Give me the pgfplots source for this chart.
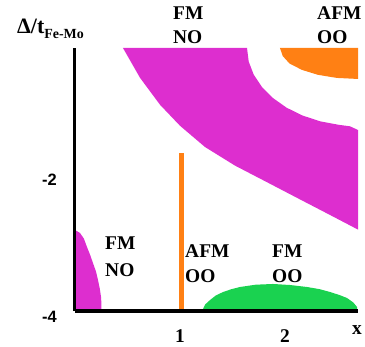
\documentclass[border=0pt]{standalone}
\usepackage{fontspec}
\setmainfont{Liberation Serif}
\setsansfont{Liberation Sans}
\usepackage{pgfplots}
\pgfplotsset{compat=1.18}
\definecolor{mag}{RGB}{221,46,207}
\definecolor{org}{RGB}{255,128,20}
\definecolor{grn}{RGB}{26,210,80}
\newcommand{\lbl}{\fontsize{19.5}{22}\selectfont\bfseries}
\begin{document}
\begin{tikzpicture}
\useasboundingbox (-75bp,-36bp) rectangle (290bp,311bp);
\begin{axis}[
  scale only axis,
  width=283bp, height=263bp,
  xmin=0, xmax=2.695, ymin=-4, ymax=0,
  axis lines=left,
  axis line style={-, line width=3bp, black},
  axis on top,
  clip=false,
  major tick length=0pt,
  xtick={1,2}, xticklabels={1,2},
  xticklabel style={anchor=base, inner sep=0pt, yshift=-31bp, font=\lbl},
  ytick={-2}, yticklabels={-2},
  extra y ticks={-4}, extra y tick labels={-4},
  extra y tick style={yticklabel style={yshift=-6bp}},
  yticklabel style={anchor=east, inner sep=0pt, xshift=-18bp, font=\fontsize{16.5}{18}\selectfont\sffamily\bfseries},
]
% upper FM NO region (magenta band)
\addplot[fill=mag, draw=none] coordinates {
 (0.457,0) (1.638,0) (1.654,-0.205) (1.702,-0.406) (1.780,-0.593)
 (1.886,-0.762) (2.015,-0.908) (2.167,-1.027) (2.333,-1.115)
 (2.511,-1.168) (2.619,-1.191) (2.695,-1.247)
 (2.695,-2.762) (2.429,-2.540) (2.143,-2.303) (1.810,-2.026)
 (1.524,-1.789) (1.238,-1.506) (1.0,-1.183) (0.810,-0.864)
 (0.619,-0.453) (0.457,0)
} --cycle;
% upper right AFM OO region
\addplot[fill=org, draw=none] coordinates {
 (1.952,0) (1.978,-0.122) (2.043,-0.236) (2.161,-0.333)
 (2.314,-0.408) (2.493,-0.455) (2.695,-0.471) (2.695,0)
} --cycle;
% lower left FM NO region
\addplot[fill=mag, draw=none] coordinates {
 (0,-2.768) (0.048,-2.814) (0.085,-2.900) (0.114,-3.027) (0.145,-3.150)
 (0.171,-3.270) (0.200,-3.400) (0.219,-3.529) (0.236,-3.660)
 (0.248,-3.787) (0.252,-3.900) (0.252,-4) (0,-4)
} --cycle;
% FM OO region
\addplot[fill=grn, draw=none] coordinates {
 (1.210,-4) (1.240,-3.900) (1.286,-3.833) (1.340,-3.765) (1.410,-3.711)
 (1.490,-3.668) (1.571,-3.635) (1.720,-3.600) (1.886,-3.589)
 (2.050,-3.605) (2.210,-3.635) (2.330,-3.668) (2.429,-3.711)
 (2.520,-3.758) (2.590,-3.802) (2.650,-3.870) (2.686,-3.939) (2.686,-4)
} --cycle;
% AFM OO line at x=1
\addplot[org, line width=5bp] coordinates {(1.01,-4) (1.01,-1.6)};
% labels
\node[anchor=base west, font=\lbl, inner sep=0pt] at (axis cs:0.933,0.426) {FM};
\node[anchor=base west, font=\lbl, inner sep=0pt] at (axis cs:0.933,0.076) {NO};
\node[anchor=base west, font=\lbl, inner sep=0pt] at (axis cs:2.305,0.426) {AFM};
\node[anchor=base west, font=\lbl, inner sep=0pt] at (axis cs:2.305,0.076) {OO};
\node[anchor=base west, font=\lbl, inner sep=0pt] at (axis cs:0.286,-3.072) {FM};
\node[anchor=base west, font=\lbl, inner sep=0pt] at (axis cs:0.286,-3.468) {NO};
\node[anchor=base west, font=\lbl, inner sep=0pt] at (axis cs:1.048,-3.179) {AFM};
\node[anchor=base west, font=\lbl, inner sep=0pt] at (axis cs:1.048,-3.559) {OO};
\node[anchor=base west, font=\lbl, inner sep=0pt] at (axis cs:1.876,-3.179) {FM};
\node[anchor=base west, font=\lbl, inner sep=0pt] at (axis cs:1.876,-3.559) {OO};
\node[anchor=base, font=\lbl, inner sep=0pt] at (axis cs:2.686,-4.365) {x};
\node[anchor=base west, inner sep=0pt] at (axis cs:-0.552,0.228)
  {\fontsize{22}{24}\selectfont\bfseries Δ/t\raisebox{-5bp}{\fontsize{14}{16}\selectfont Fe-Mo}};
\end{axis}
\end{tikzpicture}
\end{document}
